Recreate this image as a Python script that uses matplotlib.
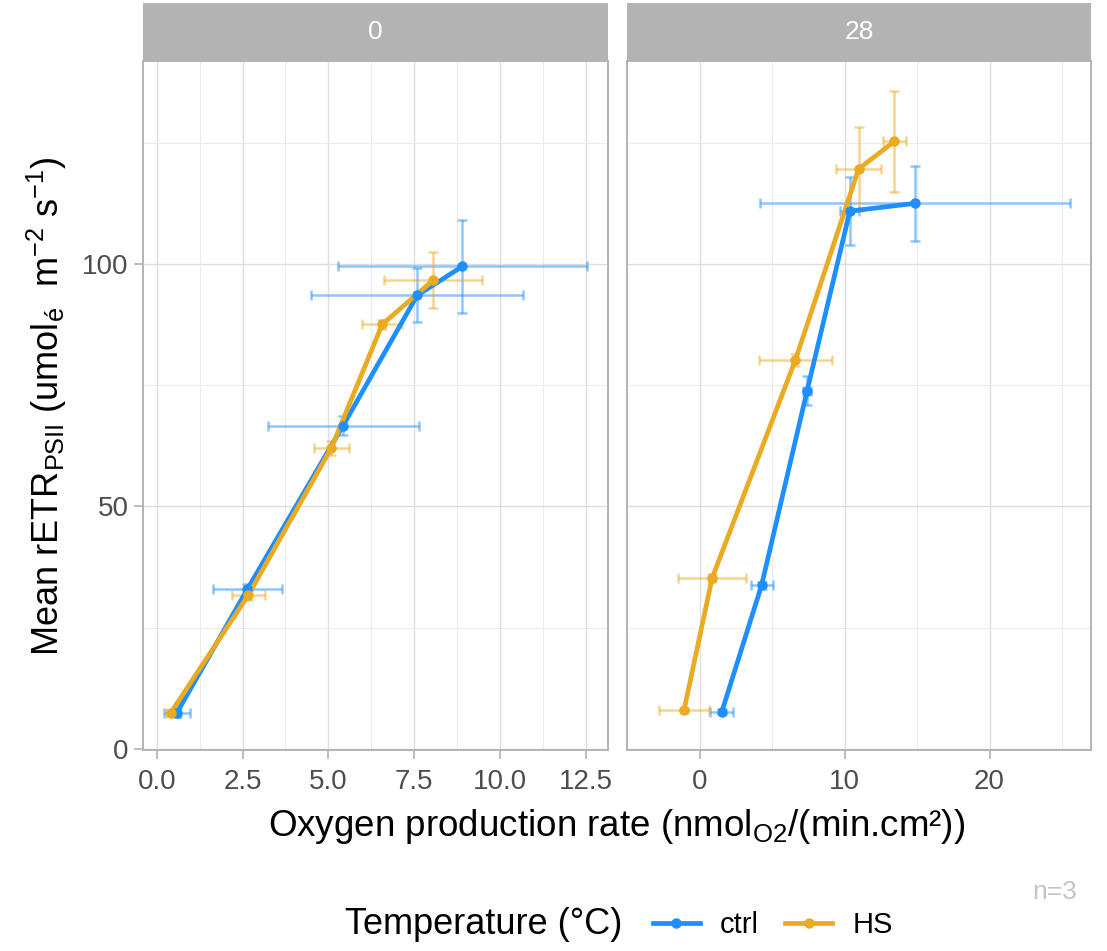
#!/usr/bin/env python3
"""
Mean rETR vs oxygen production rate, faceted by day (0 / 28), ctrl vs HS.
"""

import matplotlib
matplotlib.use('Agg')
import matplotlib.pyplot as plt
from matplotlib.lines import Line2D
import numpy as np


# ---- data ----
panels = ['0', '28']
groups = ['ctrl', 'HS']
group_colors = {'ctrl': '#1E8FFF', 'HS': '#EAAA22'}

ctrl_0_x = [0.58, 2.64, 5.43, 7.59, 8.91]
ctrl_0_xerr = [0.38, 1.01, 2.20, 3.08, 3.62]
ctrl_0_y = [7.3, 32.9, 66.7, 93.6, 99.6]
ctrl_0_yerr = [0.8, 1.0, 2.0, 5.6, 9.6]

hs_0_x = [0.41, 2.67, 5.09, 6.57, 8.05]
hs_0_xerr = [0.15, 0.48, 0.52, 0.58, 1.44]
hs_0_y = [7.4, 31.7, 62.1, 87.6, 96.7]
hs_0_yerr = [0.6, 1.0, 1.5, 1.0, 5.8]

ctrl_28_x = [1.54, 4.28, 7.42, 10.37, 14.85]
ctrl_28_xerr = [0.80, 0.76, 0.30, 0.65, 10.70]
ctrl_28_y = [7.6, 33.7, 73.9, 111.0, 112.6]
ctrl_28_yerr = [0.5, 0.8, 3.0, 7.1, 7.7]

hs_28_x = [-1.07, 0.87, 6.62, 10.97, 13.44]
hs_28_xerr = [1.70, 2.37, 2.52, 1.53, 0.80]
hs_28_y = [7.9, 35.2, 80.3, 119.7, 125.4]
hs_28_yerr = [0.5, 0.8, 1.2, 8.6, 10.5]

left_xticks = [0.0, 2.5, 5.0, 7.5, 10.0, 12.5]
left_xticklabels = ['0.0', '2.5', '5.0', '7.5', '10.0', '12.5']
right_xticks = [0, 10, 20]
yticks = [0, 50, 100]

W, H = 1107, 951

plt.rcParams['font.family'] = ['Liberation Sans', 'DejaVu Sans']
plt.rcParams['mathtext.fontset'] = 'custom'
plt.rcParams['mathtext.rm'] = 'Liberation Sans'
plt.rcParams['mathtext.it'] = 'Liberation Sans:italic'
plt.rcParams['mathtext.bf'] = 'Liberation Sans:bold'


def px_rect(x0, y0, x1, y1):
    """pixel box (top-left origin) -> figure fraction rect"""
    return [x0 / W, 1 - y1 / H, (x1 - x0) / W, (y1 - y0) / H]


def draw_group(ax, x, xerr, y, yerr, color):
    ax.errorbar(x, y, xerr=xerr, yerr=yerr, fmt='none', ecolor=color, alpha=0.5,
                elinewidth=1.8, capsize=3.5, capthick=1.8, zorder=2)
    ax.plot(x, y, '-', color=color, linewidth=3.4, zorder=3, solid_capstyle='round')
    ax.plot(x, y, 'o', color=color, markersize=6.5, zorder=4)


def style_panel(ax, xlim, xticks, minor_x, show_y):
    ax.set_xlim(*xlim)
    ax.set_ylim(-0.3, 142)
    ax.set_xticks(xticks)
    ax.set_xticks(minor_x, minor=True)
    ax.set_yticks(yticks)
    ax.set_yticks([25, 75, 125], minor=True)
    ax.grid(True, which='major', color='#DEDEDE', linewidth=1.0)
    ax.grid(True, which='minor', color='#EBEBEB', linewidth=0.7)
    ax.set_axisbelow(True)
    for s in ax.spines.values():
        s.set_color('#B3B3B3')
        s.set_linewidth(1.4)
    ax.tick_params(axis='both', which='major', color='#B3B3B3', length=6.5, width=1.2,
                   labelsize=20, labelcolor='#4D4D4D')
    ax.tick_params(axis='x', which='major', pad=7)
    ax.tick_params(axis='y', which='major', pad=4)
    ax.tick_params(axis='both', which='minor', length=0)
    if not show_y:
        ax.tick_params(axis='y', which='major', length=0, labelleft=False)


def add_strip(fig, rect, label):
    sax = fig.add_axes(rect)
    sax.set_facecolor('#B3B3B3')
    sax.set_xticks([])
    sax.set_yticks([])
    for s in sax.spines.values():
        s.set_visible(False)
    sax.text(0.5, 0.5, label, color='white', fontsize=19, ha='center', va='center',
             transform=sax.transAxes)


def main():
    fig = plt.figure(figsize=(W / 100, H / 100), dpi=100)

    ax0 = fig.add_axes(px_rect(143, 61, 608, 750))
    ax1 = fig.add_axes(px_rect(627, 61, 1091, 750))

    draw_group(ax0, ctrl_0_x, ctrl_0_xerr, ctrl_0_y, ctrl_0_yerr, group_colors['ctrl'])
    draw_group(ax0, hs_0_x, hs_0_xerr, hs_0_y, hs_0_yerr, group_colors['HS'])
    draw_group(ax1, ctrl_28_x, ctrl_28_xerr, ctrl_28_y, ctrl_28_yerr, group_colors['ctrl'])
    draw_group(ax1, hs_28_x, hs_28_xerr, hs_28_y, hs_28_yerr, group_colors['HS'])

    style_panel(ax0, (-0.40, 13.15), left_xticks, np.arange(1.25, 13.0, 2.5), True)
    style_panel(ax1, (-4.15, 27.0), right_xticks, [-5, 5, 15, 25], False)
    ax0.set_xticklabels(left_xticklabels)

    add_strip(fig, px_rect(143, 3, 608, 61), panels[0])
    add_strip(fig, px_rect(627, 3, 1091, 61), panels[1])

    # axis titles
    fig.text(47 / W, 1 - 406 / H,
             r'Mean rETR$_{\mathregular{PSII}}$ (umol$_{\mathregular{é}}$  m$^{\mathregular{-2}}$ s$^{\mathregular{-1}}$)',
             rotation=90, ha='center', va='center', fontsize=26)
    fig.text(617 / W, 1 - 836 / H,
             r'Oxygen production rate (nmol$_{\mathregular{O2}}$/(min.cm²))',
             ha='center', va='baseline', fontsize=26.5)

    # caption
    fig.text(1077 / W, 1 - 892 / H, 'n=3', ha='right', va='center', fontsize=19,
             color='#C4C4C4')

    # legend
    fig.text(345 / W, 1 - 925 / H, 'Temperature (°C)', ha='left', va='center', fontsize=26)
    handles = [Line2D([], [], color=group_colors[g], linewidth=3.4, marker='o', markersize=6.5)
               for g in groups]
    fig.legend(handles, groups, loc='center left', bbox_to_anchor=(653 / W, 1 - 925 / H),
               ncol=2, frameon=False, fontsize=21, handlelength=1.6, handletextpad=0.7,
               columnspacing=0.9, borderaxespad=0, borderpad=0)

    fig.savefig('out.png', dpi=100)


if __name__ == '__main__':
    main()
